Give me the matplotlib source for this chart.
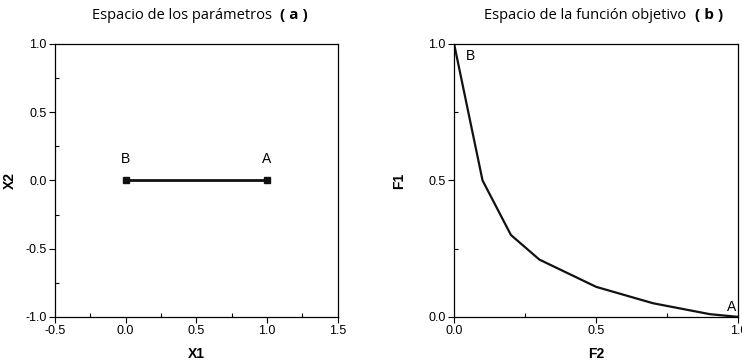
import matplotlib.pyplot as plt
import numpy as np

# panel (a): parameter space
x1_pts = [0.0, 1.0]
x2_pts = [0.0, 0.0]

# panel (b): objective space
f2_pts = [0.0, 0.1, 0.2, 0.3, 0.5, 0.7, 0.9, 1.0]
f1_pts = [1.0, 0.5, 0.3, 0.21, 0.11, 0.05, 0.01, 0.0]

plt.rcParams['font.family'] = ['Liberation Sans', 'DejaVu Sans']
plt.rcParams['axes.unicode_minus'] = False

fig = plt.figure(figsize=(7.42, 3.63), dpi=100)
ax1 = fig.add_axes([0.074, 0.127, 0.381, 0.752])
ax2 = fig.add_axes([0.612, 0.127, 0.383, 0.752])


def style(ax):
    ax.tick_params(which='major', direction='out', length=4, width=0.8, labelsize=9, pad=2)
    ax.tick_params(which='minor', direction='in', length=3, width=0.8)
    for s in ax.spines.values():
        s.set_linewidth(0.9)


# (a)
ax1.plot(x1_pts, x2_pts, color='#111111', lw=2, marker='s', ms=4)
ax1.set_xlim(-0.5, 1.5)
ax1.set_ylim(-1.0, 1.0)
ax1.set_xticks(np.arange(-0.5, 1.51, 0.5))
ax1.set_xticks(np.arange(-0.25, 1.5, 0.5), minor=True)
ax1.set_yticks(np.arange(-1.0, 1.01, 0.5))
ax1.set_yticks(np.arange(-0.75, 1.0, 0.5), minor=True)
ax1.set_xlabel('X1', fontweight='bold', fontsize=10, labelpad=7)
ax1.set_ylabel('X2', fontweight='bold', fontsize=10, labelpad=6)
ax1.text(x1_pts[0], 0.13, 'B', ha='center', fontsize=10)
ax1.text(x1_pts[1], 0.13, 'A', ha='center', fontsize=10)
style(ax1)

# (b)
ax2.plot(f2_pts, f1_pts, color='#111111', lw=1.6)
ax2.set_xlim(0.0, 1.0)
ax2.set_ylim(0.0, 1.0)
ax2.set_xticks([0.0, 0.5, 1.0])
ax2.set_xticks([0.25, 0.75], minor=True)
ax2.set_yticks([0.0, 0.5, 1.0])
ax2.set_yticks([0.25, 0.75], minor=True)
ax2.set_xlabel('F2', fontweight='bold', fontsize=10, labelpad=7)
ax2.set_ylabel('F1', fontweight='bold', fontsize=10, labelpad=16)
ax2.text(0.04, 0.94, 'B', fontsize=10)
ax2.text(0.96, 0.02, 'A', fontsize=10)
style(ax2)

# titles
fig.text(0.366, 0.948, 'Espacio de los parámetros', ha='right', fontsize=10.5, family='Open Sans')
fig.text(0.378, 0.948, '( a )', ha='left', fontsize=11, fontweight='bold', family='Open Sans')
fig.text(0.925, 0.948, 'Espacio de la función objetivo', ha='right', fontsize=10.5, family='Open Sans')
fig.text(0.936, 0.948, '( b )', ha='left', fontsize=11, fontweight='bold', family='Open Sans')

fig.savefig('out.png', dpi=100)
